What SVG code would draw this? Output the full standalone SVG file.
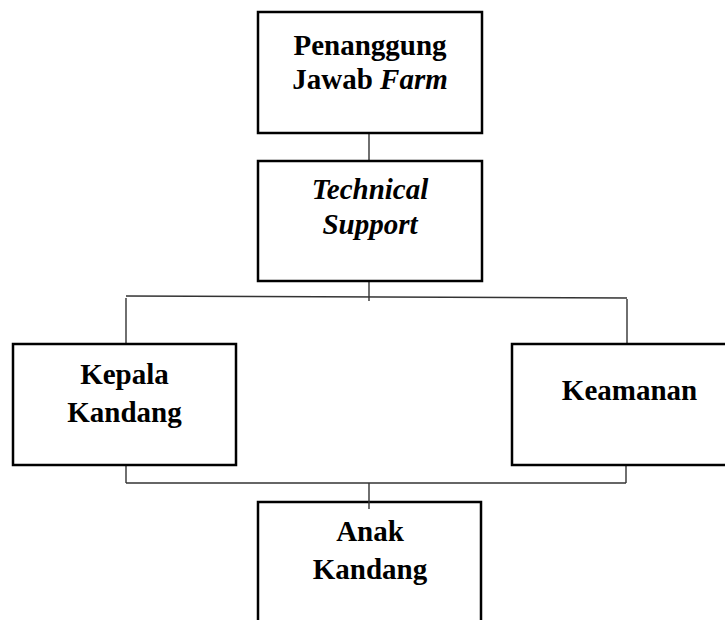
<svg xmlns="http://www.w3.org/2000/svg" width="725" height="620" viewBox="0 0 725 620">
<style>
.box{fill:#fff;stroke:#000;stroke-width:2.5}
.conn{fill:none;stroke:#333;stroke-width:1.4}
text{font-family:"Liberation Serif","Times New Roman",serif;font-size:29px;font-weight:bold;fill:#000;text-anchor:middle}
.it{font-style:italic}
</style>
<rect width="725" height="620" fill="#fff"/>
<g id="connectors">
<line class="conn" x1="369" y1="133" x2="369" y2="161"/>
<line class="conn" x1="369" y1="281" x2="369" y2="301"/>
<line class="conn" x1="126" y1="296" x2="627" y2="298"/>
<line class="conn" x1="126" y1="298" x2="126" y2="344"/>
<line class="conn" x1="627" y1="299" x2="627" y2="344"/>
<line class="conn" x1="126" y1="465" x2="126" y2="483"/>
<line class="conn" x1="626" y1="465" x2="626" y2="483"/>
<line class="conn" x1="126" y1="483" x2="626" y2="483"/>
</g>
<g id="penanggung">
<rect class="box" x="258" y="12" width="224" height="121"/>
<text x="370" y="55">Penanggung</text>
<text x="370" y="89">Jawab <tspan class="it">Farm</tspan></text>
</g>
<g id="technical">
<rect class="box" x="258" y="161" width="224" height="120"/>
<text class="it" x="370" y="199">Technical</text>
<text class="it" x="370" y="234">Support</text>
</g>
<g id="kepala">
<rect class="box" x="13" y="344" width="223" height="121"/>
<text x="124.5" y="384">Kepala</text>
<text x="124.5" y="422">Kandang</text>
</g>
<g id="keamanan">
<rect class="box" x="512" y="344" width="235" height="121"/>
<text x="629.5" y="400">Keamanan</text>
</g>
<g id="anak">
<rect class="box" x="258" y="502" width="223" height="130"/>
<text x="370" y="541">Anak</text>
<text x="370" y="579">Kandang</text>
</g>
<g id="connector-anak">
<line class="conn" x1="369" y1="483" x2="369" y2="509"/>
</g>
</svg>
